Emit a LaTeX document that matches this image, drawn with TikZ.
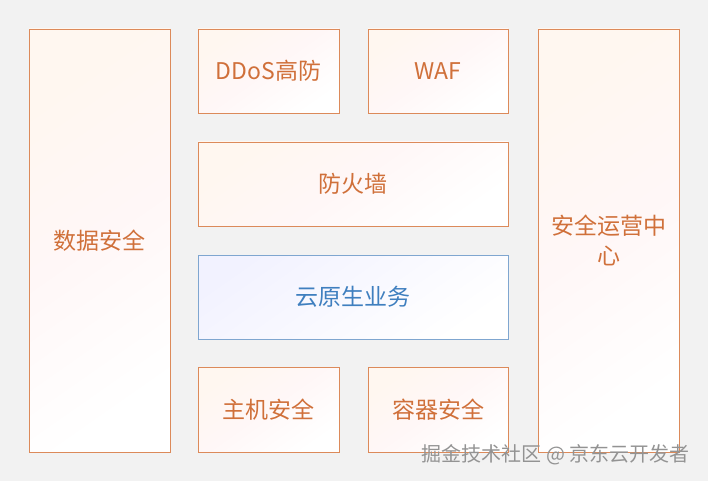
\documentclass[tikz,border=0pt]{standalone}
\usepackage{fontspec}
\setmainfont{Noto Sans CJK SC}
\definecolor{otext}{HTML}{D0703A}
\definecolor{oline}{HTML}{DC8A5A}
\definecolor{btext}{HTML}{3F7FBF}
\definecolor{bline}{HTML}{7FA6D0}
\begin{document}
\begin{tikzpicture}[x=1pt,y=-1pt,
  obox/.style={draw=oline, line width=0.8pt, shading=axis, top color=red!8!orange!6, bottom color=white, middle color=white!97!red, shading angle=35, text=otext, font=\fontsize{23}{30}\selectfont, align=center},
  bbox/.style={draw=bline, line width=0.8pt, shading=axis, top color=blue!5, bottom color=white, shading angle=35, text=btext, font=\fontsize{23}{30}\selectfont, align=center}]
\fill[gray!10] (0,0) rectangle (708,481);
\newcommand\bx[7]{\node[#1, minimum width=#4-#2, minimum height=#5-#3, inner sep=0pt] (#6) at ({(#2+#4)/2},{(#3+#5)/2}) {#7};}
\bx{obox}{29}{29}{170}{452}{a}{数据安全}
\bx{obox}{198}{29}{339}{113}{b}{DDoS高防}
\bx{obox}{368}{29}{508}{113}{c}{WAF}
\bx{obox}{198}{142}{508}{226}{d}{防火墙}
\bx{bbox}{198}{255}{508}{339}{e}{云原生业务}
\bx{obox}{198}{367}{339}{452}{f}{主机安全}
\bx{obox}{368}{367}{508}{452}{g}{容器安全}
\bx{obox}{538}{29}{679}{452}{h}{安全运营中\\心}
\node[text=gray!85, font=\fontsize{20}{24}\selectfont, anchor=east] (w) at (693,455) {掘金技术社区 @ 京东云开发者};
\end{tikzpicture}
\end{document}
